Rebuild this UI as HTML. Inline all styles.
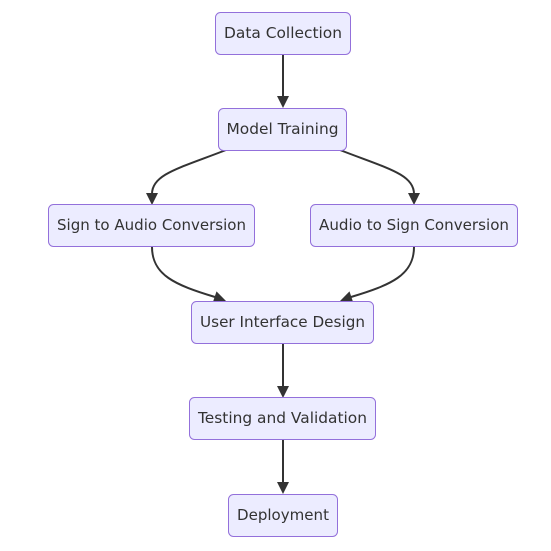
<!DOCTYPE html>
<html><head><style>body{margin:0;background:#fff}</style></head><body>
<svg width="551" height="546" xmlns="http://www.w3.org/2000/svg">
<g fill="none" stroke="#333" stroke-width="2">
<path d="M283,54 L283,97"/>
<path d="M226,150 C180,168 152,174 152,194"/>
<path d="M340,150 C386,168 414,174 414,194"/>
<path d="M152,247 C152,275 175,285 215,297"/>
<path d="M414,247 C414,275 391,285 351,297"/>
<path d="M283,343 L283,387"/>
<path d="M283,440 L283,483"/>
</g>
<g fill="#333">
<polygon points="283,108 277,96 289,96"/>
<polygon points="152,205 146,193 158,193"/>
<polygon points="414,205 408,193 420,193"/>
<polygon points="226,301 216.5,291.4 212.7,302.8"/>
<polygon points="340,301 349.5,291.4 353.3,302.8"/>
<polygon points="283,398 277,386 289,386"/>
<polygon points="283,494 277,482 289,482"/>
</g>
<g fill="#ECECFF" stroke="#9370DB" stroke-width="1">
<rect x="215.5" y="12.5" width="135" height="42" rx="5"/>
<rect x="218.5" y="108.5" width="128" height="42" rx="5"/>
<rect x="48.5" y="204.5" width="206" height="42" rx="5"/>
<rect x="310.5" y="204.5" width="207" height="42" rx="5"/>
<rect x="191.5" y="301.5" width="182" height="42" rx="5"/>
<rect x="189.5" y="397.5" width="186" height="42" rx="5"/>
<rect x="228.5" y="494.5" width="109" height="42" rx="5"/>
</g>
<g font-family="DejaVu Sans, Liberation Sans, sans-serif" font-size="15" fill="#333" text-anchor="middle">
<text x="283" y="38" textLength="118" lengthAdjust="spacingAndGlyphs">Data Collection</text>
<text x="282.5" y="134" textLength="112" lengthAdjust="spacingAndGlyphs">Model Training</text>
<text x="151.5" y="230" textLength="189" lengthAdjust="spacingAndGlyphs">Sign to Audio Conversion</text>
<text x="414" y="230" textLength="190" lengthAdjust="spacingAndGlyphs">Audio to Sign Conversion</text>
<text x="282.5" y="327" textLength="165" lengthAdjust="spacingAndGlyphs">User Interface Design</text>
<text x="282.5" y="423" textLength="169" lengthAdjust="spacingAndGlyphs">Testing and Validation</text>
<text x="283" y="520" textLength="92" lengthAdjust="spacingAndGlyphs">Deployment</text>
</g>
</svg>
</body></html>
